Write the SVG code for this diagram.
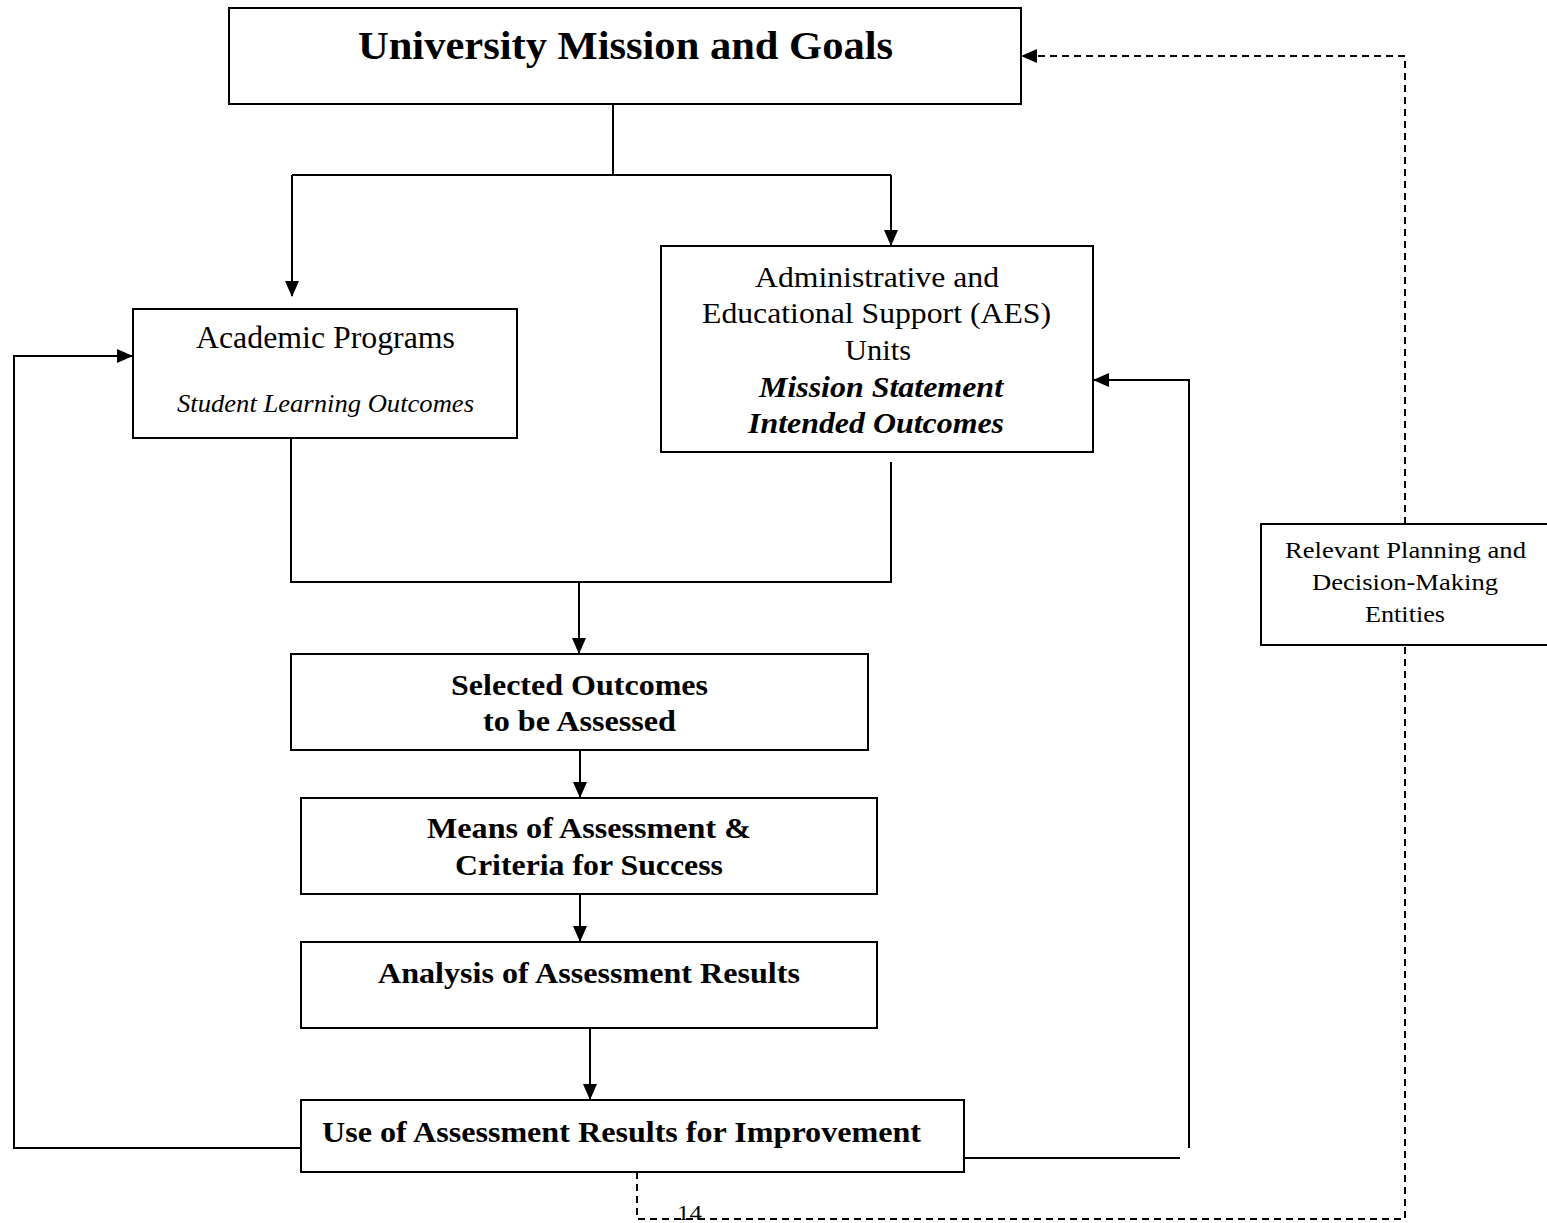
<svg xmlns="http://www.w3.org/2000/svg" width="1547" height="1223" viewBox="0 0 1547 1223">
<defs>
<style>
.box{fill:#fff;stroke:#000;stroke-width:2}
.ln{fill:none;stroke:#000;stroke-width:2}
.dl{fill:none;stroke:#000;stroke-width:2;stroke-dasharray:7,5}
text{font-family:"Liberation Serif","Times New Roman",serif;fill:#000;text-anchor:middle}
.b{font-weight:bold}
.i{font-style:italic}
</style>
<marker id="ahl" markerWidth="16" markerHeight="14" refX="15" refY="7" orient="auto" markerUnits="userSpaceOnUse" viewBox="0 0 16 14">
<path d="M0,0 L16,7 L0,14 z" fill="#000"/>
</marker>
</defs>
<rect width="1547" height="1223" fill="#fff"/>
<g id="connectors">
<path class="ln" d="M613,104 V175"/>
<path class="ln" d="M292,175 H891"/>
<path class="ln" d="M292,175 V296" marker-end="url(#ahl)"/>
<path class="ln" d="M891,175 V245" marker-end="url(#ahl)"/>
<path class="ln" d="M291,438 V582 H891 V462"/>
<path class="ln" d="M579,582 V653" marker-end="url(#ahl)"/>
<path class="ln" d="M580,750 V797" marker-end="url(#ahl)"/>
<path class="ln" d="M580,894 V941" marker-end="url(#ahl)"/>
<path class="ln" d="M590,1028 V1099" marker-end="url(#ahl)"/>
<path class="ln" d="M301,1148 H14 V356 H132" marker-end="url(#ahl)"/>
<path class="ln" d="M964,1158 H1180"/>
<path class="ln" d="M1189,1148 V380 H1094" marker-end="url(#ahl)"/>
<path class="dl" d="M637,1172 V1219 H1405 V645"/>
<path class="dl" d="M1405,524 V56 H1022" marker-end="url(#ahl)"/>
</g>
<g id="mission">
<rect class="box" x="229" y="8" width="792" height="96"/>
<text class="b" x="625.5" y="59" font-size="41" textLength="535" lengthAdjust="spacingAndGlyphs">University Mission and Goals</text>
</g>
<g id="academic">
<rect class="box" x="133" y="309" width="384" height="129"/>
<text x="325.5" y="348" font-size="31" textLength="259" lengthAdjust="spacingAndGlyphs">Academic Programs</text>
<text class="i" x="325.5" y="412" font-size="25" textLength="297" lengthAdjust="spacingAndGlyphs">Student Learning Outcomes</text>
</g>
<g id="aes">
<rect class="box" x="661" y="246" width="432" height="206"/>
<text x="877" y="287" font-size="29" textLength="244" lengthAdjust="spacingAndGlyphs">Administrative and</text>
<text x="876.5" y="323" font-size="29" textLength="349" lengthAdjust="spacingAndGlyphs">Educational Support (AES)</text>
<text x="878" y="360" font-size="29" textLength="66" lengthAdjust="spacingAndGlyphs">Units</text>
<text class="b i" x="881" y="397" font-size="29" textLength="244" lengthAdjust="spacingAndGlyphs">Mission Statement</text>
<text class="b i" x="876" y="433" font-size="29" textLength="256" lengthAdjust="spacingAndGlyphs">Intended Outcomes</text>
</g>
<g id="selected">
<rect class="box" x="291" y="654" width="577" height="96"/>
<text class="b" x="579.5" y="695" font-size="30" textLength="257" lengthAdjust="spacingAndGlyphs">Selected Outcomes</text>
<text class="b" x="579.5" y="731" font-size="30" textLength="193" lengthAdjust="spacingAndGlyphs">to be Assessed</text>
</g>
<g id="means">
<rect class="box" x="301" y="798" width="576" height="96"/>
<text class="b" x="589" y="838" font-size="30" textLength="324" lengthAdjust="spacingAndGlyphs">Means of Assessment &amp;</text>
<text class="b" x="589" y="875" font-size="30" textLength="268" lengthAdjust="spacingAndGlyphs">Criteria for Success</text>
</g>
<g id="analysis">
<rect class="box" x="301" y="942" width="576" height="86"/>
<text class="b" x="589" y="983" font-size="30" textLength="422" lengthAdjust="spacingAndGlyphs">Analysis of Assessment Results</text>
</g>
<g id="use">
<rect class="box" x="301" y="1100" width="663" height="72"/>
<text class="b" x="621.5" y="1142" font-size="30" textLength="599" lengthAdjust="spacingAndGlyphs">Use of Assessment Results for Improvement</text>
</g>
<g id="relevant">
<rect class="box" x="1261" y="524" width="290" height="121"/>
<text x="1405.5" y="558" font-size="22.5" textLength="241" lengthAdjust="spacingAndGlyphs">Relevant Planning and</text>
<text x="1405" y="590" font-size="22.5" textLength="186" lengthAdjust="spacingAndGlyphs">Decision-Making</text>
<text x="1405" y="622" font-size="22.5" textLength="80" lengthAdjust="spacingAndGlyphs">Entities</text>
</g>
<text x="689.5" y="1220" font-size="21" textLength="25" lengthAdjust="spacingAndGlyphs">14</text>
</svg>
